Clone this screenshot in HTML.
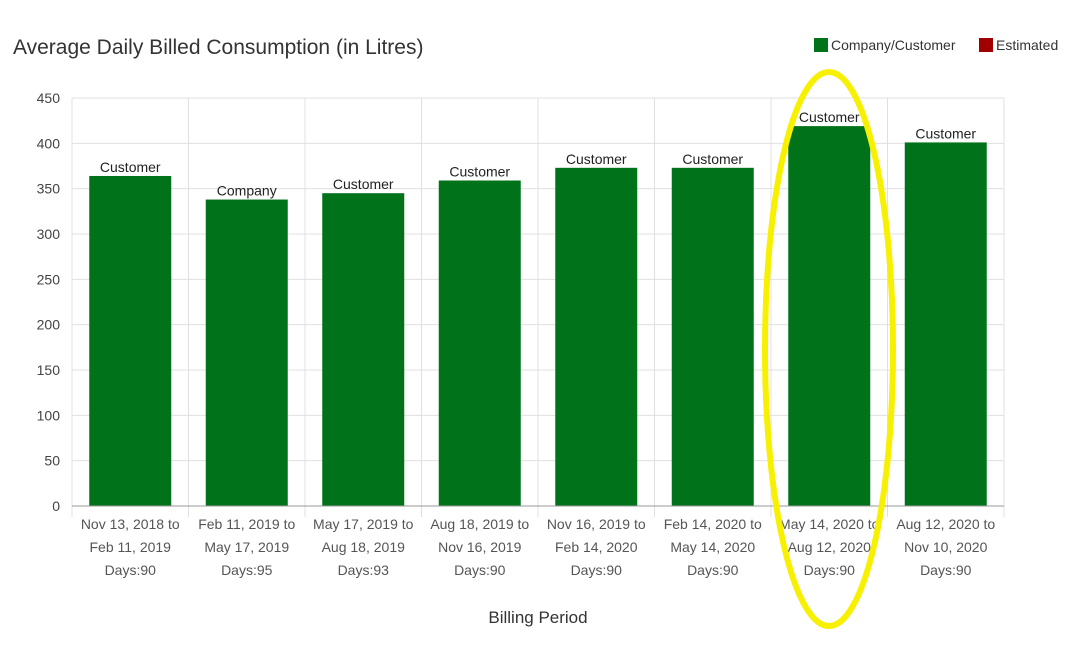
<!DOCTYPE html>
<html><head><meta charset="utf-8"><style>
body{margin:0;background:#fff;}
svg{display:block;font-family:"Liberation Sans",Arial,sans-serif;}
</style></head><body>
<svg id="chart" width="1070" height="650">
<text x="13" y="54" font-size="21" fill="#333">Average Daily Billed Consumption (in Litres)</text>
<g>
<rect x="814" y="38" width="14" height="14" fill="#00731a"/>
<text x="831" y="50" font-size="14" fill="#333">Company/Customer</text>
<rect x="979" y="38" width="14" height="14" fill="#a00000"/>
<text x="996" y="50" font-size="14" fill="#333">Estimated</text>
</g>
<g id="grid"></g><g id="bars"></g><g id="axes"></g>
<text x="538" y="623" font-size="17" fill="#333" text-anchor="middle">Billing Period</text>
<ellipse cx="829" cy="349" rx="64" ry="277" fill="none" stroke="#f7f000" stroke-width="6"/>
</svg>
<script>
const categories=[["Nov 13, 2018 to","Feb 11, 2019","Days:90"],["Feb 11, 2019 to","May 17, 2019","Days:95"],["May 17, 2019 to","Aug 18, 2019","Days:93"],["Aug 18, 2019 to","Nov 16, 2019","Days:90"],["Nov 16, 2019 to","Feb 14, 2020","Days:90"],["Feb 14, 2020 to","May 14, 2020","Days:90"],["May 14, 2020 to","Aug 12, 2020","Days:90"],["Aug 12, 2020 to","Nov 10, 2020","Days:90"]];
const values=[364,338,345,359,373,373,419,401];
const readers=["Customer","Company","Customer","Customer","Customer","Customer","Customer","Customer"];
const yTicks=[0,50,100,150,200,250,300,350,400,450];
const NS="http://www.w3.org/2000/svg";
const L=72,R=1004,T=98,B=506,yMax=450;
const y=v=>B-(v/yMax)*(B-T);
const cw=(R-L)/categories.length;
const x=i=>L+i*cw;
function mk(tag,attrs,parent){const e=document.createElementNS(NS,tag);for(const k in attrs)e.setAttribute(k,attrs[k]);parent.appendChild(e);return e;}
const grid=document.getElementById('grid'),bars=document.getElementById('bars'),axes=document.getElementById('axes');
yTicks.forEach(t=>{
 const ln=mk('line',{x1:L,x2:R,y1:y(t),y2:y(t),stroke:'#e0e0e0','stroke-width':1},grid);
 
 
 const tx=mk('text',{x:60,y:y(t)+5,'font-size':14,fill:'#444','text-anchor':'end'},axes);
 tx.textContent=t;
 
 
});
for(let i=0;i<=categories.length;i++){
 const ln=mk('line',{x1:x(i),x2:x(i),y1:T,y2:B+11,stroke:'#e0e0e0','stroke-width':1},grid);
 
 
}
const bw=82;
values.forEach((v,i)=>{
 const cx=x(i)+cw/2;
 const r=mk('rect',{x:cx-bw/2,y:y(v),width:bw,height:B-y(v),fill:'#00731a'},bars);
 
 
 const lb=mk('text',{x:cx,y:y(v)-4,'font-size':14,fill:'#222','text-anchor':'middle'},bars);
 lb.textContent=readers[i];
 
 
 categories[i].forEach((s,j)=>{
  const t=mk('text',{x:cx,y:529+j*23,'font-size':14,fill:'#555','text-anchor':'middle'},axes);
  t.textContent=s;
  
  
 });
});
const base=mk('line',{x1:L,x2:R,y1:B,y2:B,stroke:'#999','stroke-width':1},axes);


</script>
</body></html>
